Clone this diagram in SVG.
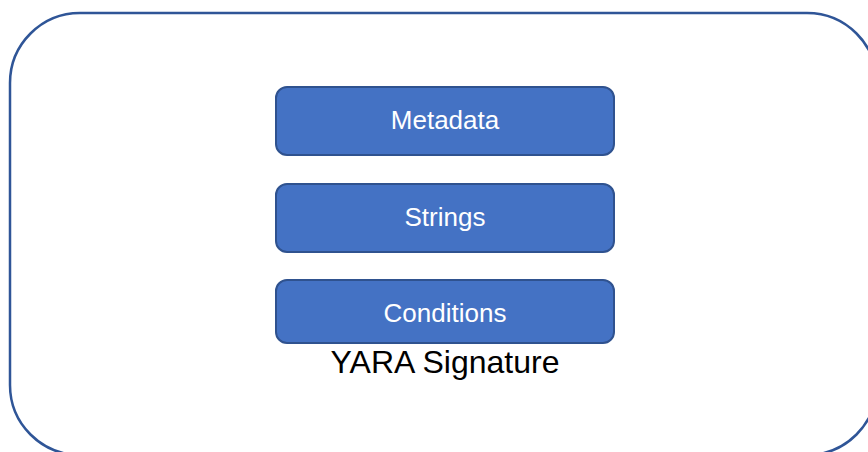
<svg xmlns="http://www.w3.org/2000/svg" width="868" height="452" viewBox="0 0 868 452">
<style>
.box{fill:#4472C4;stroke:#2F528F;stroke-width:2}
.lbl{font-family:"Liberation Sans",Arial,sans-serif;font-size:26px;fill:#FFFFFF;text-anchor:middle}
.title{font-family:"Liberation Sans",Arial,sans-serif;font-size:32px;fill:#000000;text-anchor:middle}
</style>
<rect x="0" y="0" width="868" height="452" fill="#FFFFFF"/>
<g id="container">
<rect x="10" y="13" width="867" height="442" rx="70" ry="70" fill="#FFFFFF" stroke="#2F5597" stroke-width="2.5"/>
<text class="title" x="445" y="373">YARA Signature</text>
</g>
<g id="metadata">
<rect class="box" x="276" y="87" width="338" height="68" rx="11"/>
<text class="lbl" x="445" y="129">Metadata</text>
</g>
<g id="strings">
<rect class="box" x="276" y="184" width="338" height="68" rx="11"/>
<text class="lbl" x="445" y="226">Strings</text>
</g>
<g id="conditions">
<rect class="box" x="276" y="280" width="338" height="63" rx="11"/>
<text class="lbl" x="445" y="322">Conditions</text>
</g>
<g id="connectors"></g>
</svg>
